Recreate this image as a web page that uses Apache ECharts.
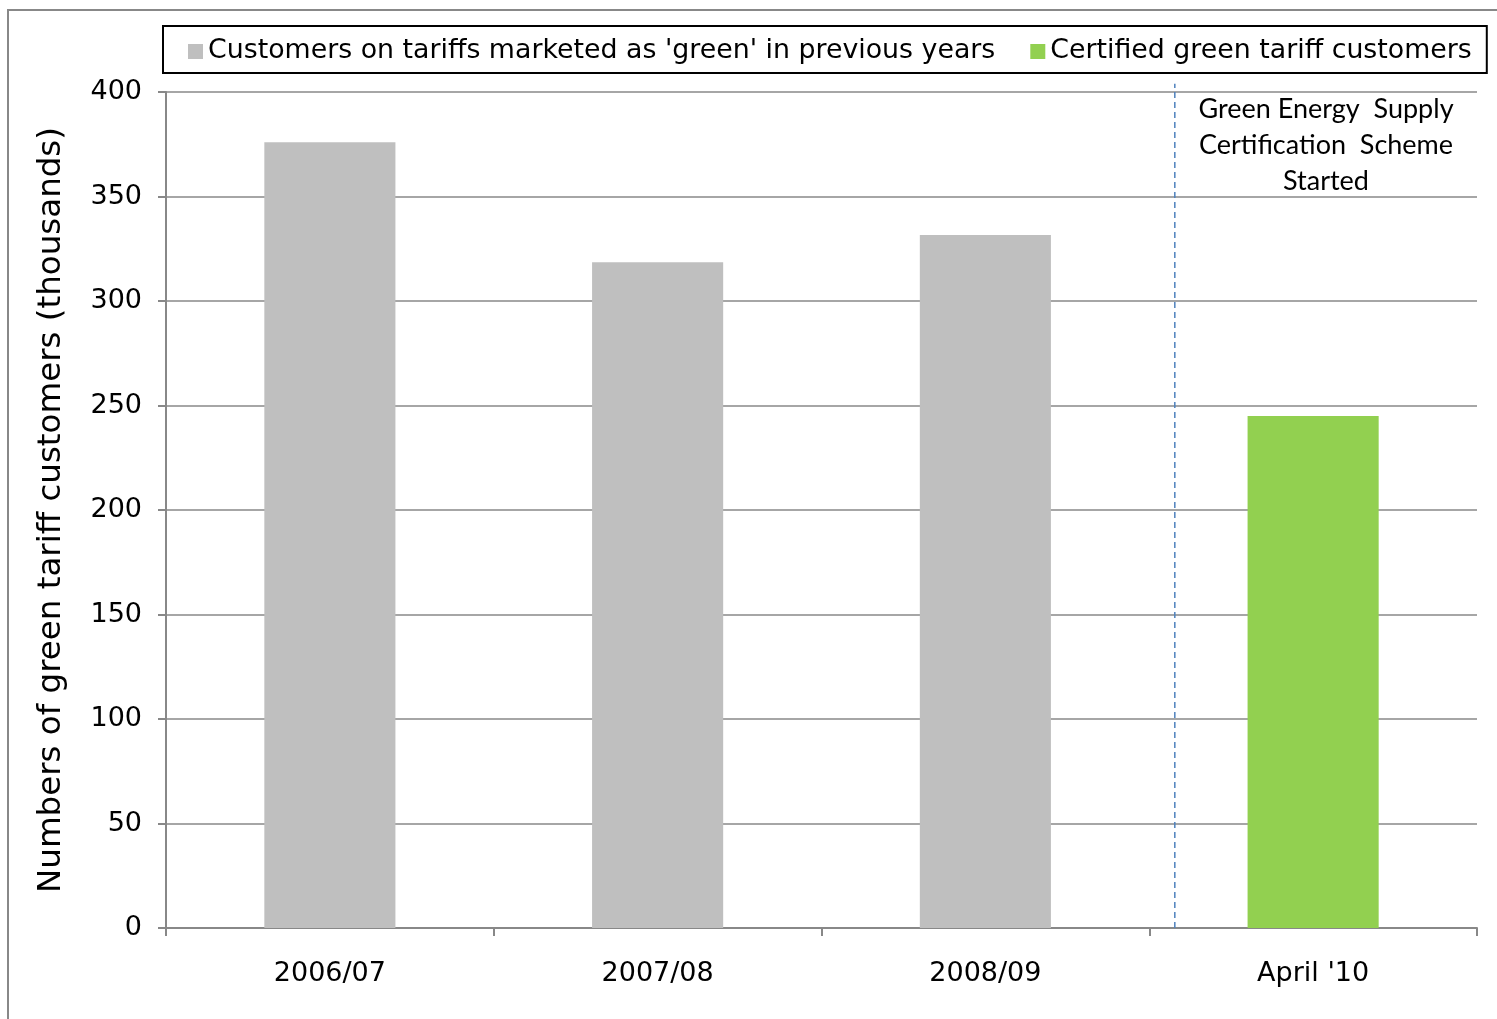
<!DOCTYPE html>
<html><head><meta charset="utf-8">
<script src="https://cdn.jsdelivr.net/npm/echarts@6/dist/echarts.min.js"></script>
<style>html,body{margin:0;padding:0;background:#fff}#c{width:1497px;height:1019px}</style>
</head><body><div id="c"></div>
<script>
const categories = ["2006/07", "2007/08", "2008/09", "April '10"];
const previousGreen = [376, 318.5, 331.6, null];
const certifiedGreen = [null, null, null, 245];
const seriesNames = ["Customers on tariffs marketed as 'green' in previous years", "Certified green tariff customers"];
const yAxisTitle = "Numbers of green tariff customers (thousands)";
const schemeStartPosition = 3.078; // on a 0..4 category-span scale
const schemeLabel = "Green Energy  Supply\nCertification  Scheme\nStarted";

const chart = echarts.init(document.getElementById('c'), null, {renderer: 'canvas'});
const font = 'DejaVu Sans';
chart.setOption({
  animation: false,
  backgroundColor: '#fff',
  grid: {left: 166, right: 20, top: 92, bottom: 91, containLabel: false},
  legend: {
    top: 26, left: 163,
    padding: [12, 15, 8, 25],
    borderColor: '#000', borderWidth: 2,
    itemGap: 35, itemWidth: 15, itemHeight: 15,
    icon: 'rect',
    textStyle: {fontFamily: font, fontSize: 26.8, color: '#000'},
    data: seriesNames
  },
  xAxis: [{
    type: 'category', data: categories,
    axisLine: {lineStyle: {color: '#888', width: 2}},
    axisTick: {show: true, length: 8, lineStyle: {color: '#888', width: 2}},
    axisLabel: {fontFamily: font, fontSize: 27, color: '#000', margin: 32},
    splitLine: {show: false}
  }, {
    type: 'value', min: 0, max: 4, show: false
  }],
  yAxis: {
    type: 'value', min: 0, max: 400, interval: 50,
    name: yAxisTitle, nameLocation: 'middle', nameGap: 98, nameRotate: 90,
    nameTextStyle: {fontFamily: font, fontSize: 32.5, color: '#000'},
    axisLine: {show: true, lineStyle: {color: '#888', width: 2}},
    axisTick: {show: true, length: 8, lineStyle: {color: '#888', width: 2}},
    axisLabel: {fontFamily: font, fontSize: 27, color: '#000', margin: 24},
    splitLine: {lineStyle: {color: '#888', width: 1.5}}
  },
  series: [{
    name: seriesNames[0], type: 'bar', stack: 'a', barWidth: '40%',
    itemStyle: {color: '#bfbfbf'}, data: previousGreen
  }, {
    name: seriesNames[1], type: 'bar', stack: 'a', barWidth: '40%',
    itemStyle: {color: '#92d050'}, data: certifiedGreen
  }, {
    type: 'line', xAxisIndex: 1, clip: false, symbol: 'none', silent: true,
    lineStyle: {color: '#4f81bd', width: 1.5, type: [6, 4]},
    data: [[schemeStartPosition, 0], [schemeStartPosition, 404]]
  }],
  graphic: [{
    type: 'rect', shape: {x: 8, y: 10, width: 1500, height: 1020},
    style: {fill: null, stroke: '#888', lineWidth: 2}, z: -1
  }, {
    type: 'text', left: 1194, top: 91,
    style: {text: schemeLabel, font: '27px Lato', fill: '#000', align: 'center', lineHeight: 36, textAlign: 'center', width: 264}
  }]
});
</script></body></html>
